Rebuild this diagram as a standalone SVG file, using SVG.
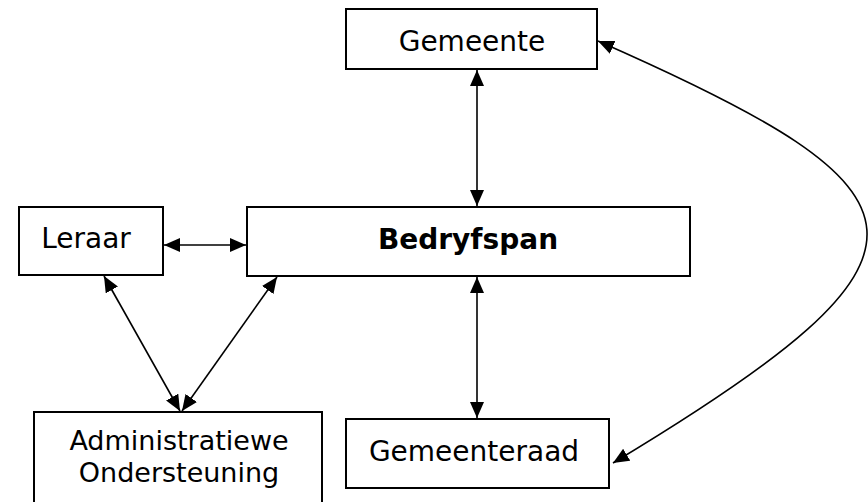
<svg xmlns="http://www.w3.org/2000/svg" width="868" height="502" viewBox="0 0 868 502">
<style>
.box{fill:#fff;stroke:#000;stroke-width:2}
.lbl{font-family:"DejaVu Sans",Verdana,sans-serif;font-size:28px;fill:#000;text-anchor:middle}
.sm{font-size:27px}
.b{font-weight:bold}
.con{fill:none;stroke:#000;stroke-width:1.6;marker-start:url(#ah);marker-end:url(#ah)}
</style>
<defs>
<marker id="ah" viewBox="0 0 16 14" refX="16" refY="7" markerWidth="16" markerHeight="14" markerUnits="userSpaceOnUse" orient="auto-start-reverse">
<path d="M0,0 L16,7 L0,14 Z" fill="#000"/>
</marker>
</defs>
<rect width="868" height="502" fill="#fff"/>
<g id="connectors">
<line class="con" x1="477" y1="70" x2="477" y2="206"/>
<line class="con" x1="164" y1="245" x2="246" y2="245"/>
<line class="con" x1="477" y1="277" x2="477" y2="418"/>
<line class="con" x1="104" y1="276" x2="180" y2="411"/>
<line class="con" x1="277" y1="277" x2="182" y2="411"/>
<path class="con" d="M598,41 C944,193 964,252 613,463"/>
</g>
<g id="gemeente">
<rect class="box" x="346" y="9" width="251" height="60"/>
<text class="lbl" x="472" y="51">Gemeente</text>
</g>
<g id="leraar">
<rect class="box" x="19" y="207" width="144" height="68"/>
<text class="lbl" x="86" y="248">Leraar</text>
</g>
<g id="bedryfspan">
<rect class="box" x="247" y="207" width="443" height="69"/>
<text class="lbl b" x="468" y="249">Bedryfspan</text>
</g>
<g id="admin">
<rect class="box" x="34" y="412" width="288" height="100"/>
<text class="lbl sm" x="179" y="450">Administratiewe</text>
<text class="lbl sm" x="179" y="482">Ondersteuning</text>
</g>
<g id="gemeenteraad">
<rect class="box" x="346" y="419" width="263" height="69"/>
<text class="lbl" x="474" y="461">Gemeenteraad</text>
</g>
</svg>
